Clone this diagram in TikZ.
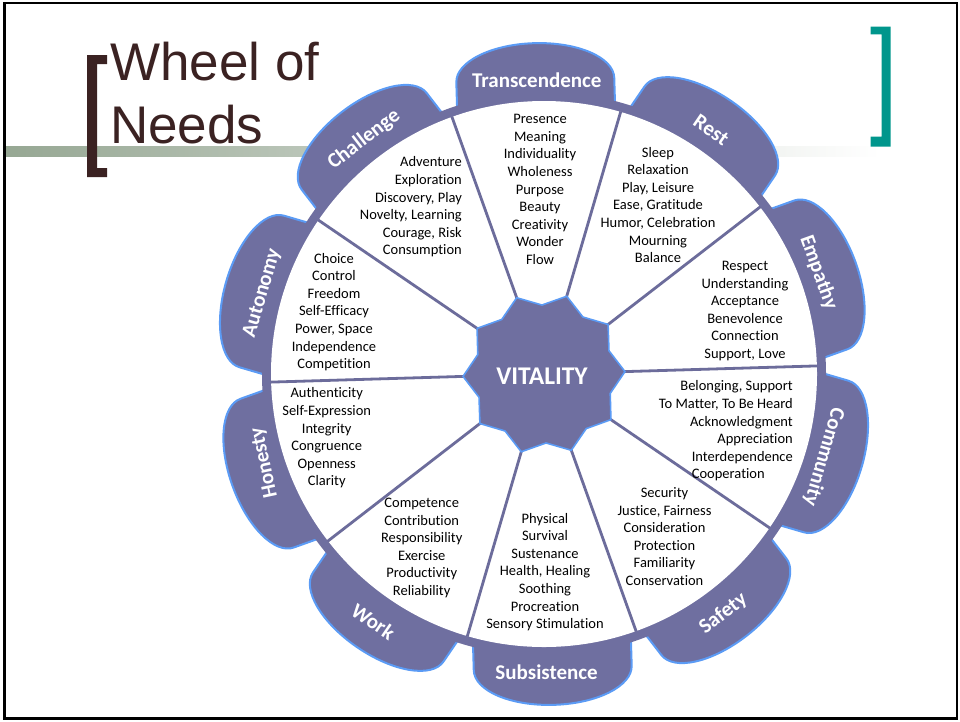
\documentclass[tikz,border=0pt]{standalone}
\usepackage{fontspec}
\setmainfont{Carlito}[Ligatures=CommonOff]
\newfontfamily\titlefont{Liberation Sans}
\definecolor{wpurple}{RGB}{111,111,160}
\definecolor{wspoke}{RGB}{108,108,155}
\definecolor{wblue}{RGB}{91,155,245}
\definecolor{tbrown}{RGB}{59,34,34}
\definecolor{tteal}{RGB}{0,150,140}
\definecolor{sage}{RGB}{150,167,147}
\begin{document}
\begin{tikzpicture}[x=1pt,y=-1pt,
  petal/.style={fill=wpurple, draw=wblue, line width=2pt},
  spoke/.style={draw=wspoke, line width=2.8pt},
  hub/.style={fill=wpurple, draw=wblue, line width=1.6pt, line join=miter},
  lab/.style={text=white, font=\bfseries\fontsize{21}{25}\selectfont, inner sep=0, text height=14pt, text depth=0pt},
  blk/.style={align=center, font=\fontsize{14.5}{17.6}\selectfont, inner sep=0, text=black},
  ttl/.style={font=\titlefont\fontsize{53}{63}\selectfont, text=tbrown, inner sep=0, anchor=base west}]
\useasboundingbox (0,0) rectangle (960,721);
% background bar
\shade[left color=sage, right color=white] (5,146.7) rectangle (880,156.7);
% frame
\draw[line width=2.7pt] (4.5,3) rectangle (957,718.5);
% brackets
\fill[tbrown] (87,55) -- (107,55) -- (107,64) -- (97,64) -- (97,168) -- (107,168) -- (107,177) -- (87,177) -- cycle;
\fill[tteal] (890.7,26.7) -- (870.7,26.7) -- (870.7,34.3) -- (881.7,34.3) -- (881.7,136.7) -- (870.7,136.7) -- (870.7,146.7) -- (890.7,146.7) -- cycle;
% title
\node[ttl] (t1) at (110,80) {Wheel of};
\node[ttl] (t2) at (110,143) {Needs};
% wheel
\begin{scope}[shift={(544,374)}, y=1pt]
  \foreach \i in {0,...,9}{
    \pgfmathsetmacro\m{19.7+36*\i}
    \begin{scope}[rotate=\m-90]
      \filldraw[petal] (-79,0) -- (-79,294) arc[start angle=180, end angle=0, x radius=79, y radius=37] -- (79,0) -- cycle;
    \end{scope}
  }
  \fill[wpurple] (0,0) circle[radius=282];
  \fill[white] (0,0) circle[radius=273];
  \foreach \i in {0,...,9}{
    \draw[spoke] ({1.7+36*\i}:80) -- ({1.7+36*\i}:273.5);
  }
  \filldraw[hub] (1.7:81) \foreach \i in {0,...,9}{ -- ({19.7+36*\i}:69) -- ({37.7+36*\i}:81) } -- cycle;
  % petal labels
  \node[lab, rotate=0] (ltr) at (91.4:294) {Transcendence};
  \node[lab, rotate=-34.3] (lre) at (55.6:296) {Rest};
  \node[lab, rotate=-70.3] (lem) at (20.3:294) {Empathy};
  \node[lab, rotate=-106.3] (lco) at (-16.5:293) {Community};
  \node[lab, rotate=37.7] (lsa) at (-53.2:298) {Safety};
  \node[lab, rotate=0] (lsu) at (-89.5:299) {Subsistence};
  \node[lab, rotate=-34.3] (lwo) at (235.4:301) {Work};
  \node[lab, rotate=102] (lho) at (197.6:295) {Honesty};
  \node[lab, rotate=73.7] (lau) at (164:295) {Autonomy};
  \node[lab, rotate=37.7] (lch) at (127.5:297) {Challenge};
\end{scope}
\node[text=white, font=\bfseries\fontsize{25.5}{30}\selectfont, inner sep=0] (vit) at (542,376) {VITALITY};
% sector texts
\node[blk] (btr) at (540,189.5) {Presence\\Meaning\\Individuality\\Wholeness\\Purpose\\Beauty\\Creativity\\Wonder\\Flow};
\node[blk] (bre) at (658,205) {Sleep\\Relaxation\\Play, Leisure\\Ease, Gratitude\\Humor, Celebration\\Mourning\\Balance};
\node[blk] (bem) at (745,311) {Respect\\Understanding\\Acceptance\\Benevolence\\Connection\\Support, Love};
\node[blk, align=right, anchor=east] (bco) at (793,431) {Belonging, Support\\To Matter, To Be Heard\\Acknowledgment\\Appreciation\\Interdependence\\\rlap{Cooperation}\phantom{Interdependence}};
\node[blk] (bsa) at (664.5,536.5) {Security\\Justice, Fairness\\Consideration\\Protection\\Familiarity\\Conservation};
\node[blk] (bsu) at (545,572) {Physical\\Survival\\Sustenance\\Health, Healing\\Soothing\\Procreation\\Sensory Stimulation};
\node[blk] (bwo) at (421.7,548) {Competence\\Contribution\\Responsibility\\Exercise\\Productivity\\Reliability};
\node[blk] (bho) at (326.7,438) {Authenticity\\Self-Expression\\Integrity\\Congruence\\Openness\\Clarity};
\node[blk] (bau) at (334,312) {Choice\\Control\\Freedom\\Self-Efficacy\\Power, Space\\Independence\\Competition};
\node[blk, align=right, anchor=east] (bch) at (462,207) {Adventure\\Exploration\\Discovery, Play\\Novelty, Learning\\Courage, Risk\\Consumption};
\end{tikzpicture}
\end{document}
